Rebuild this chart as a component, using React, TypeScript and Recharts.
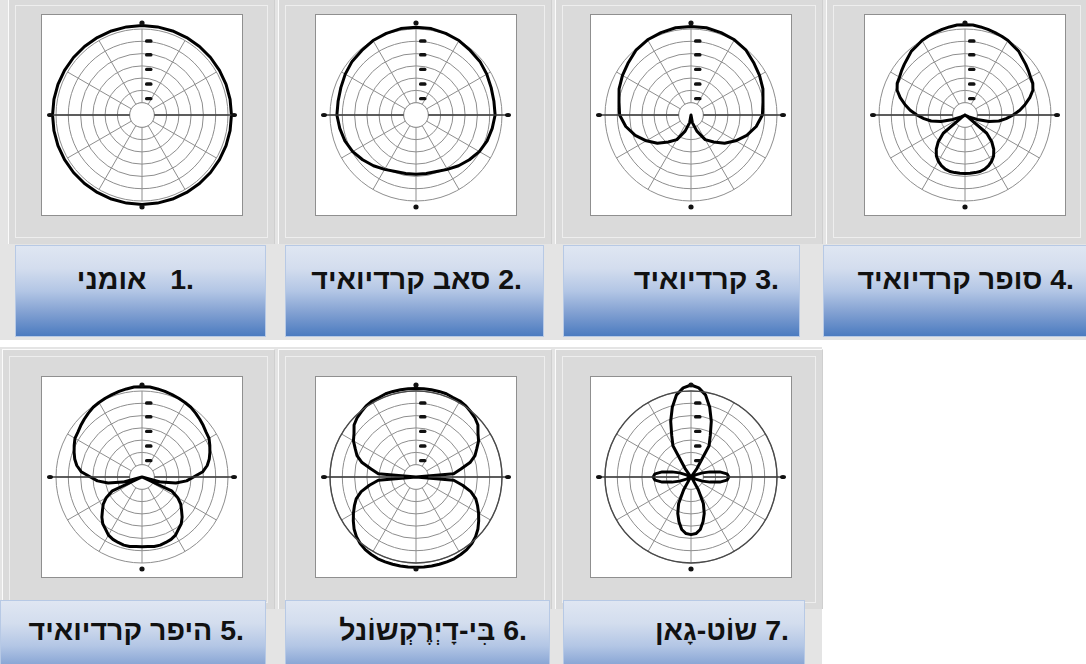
import { PolarAngleAxis, PolarGrid, PolarRadiusAxis, Radar, RadarChart } from "recharts";

// Bearing of each sample, clockwise from the front (top) of the mic.
const ANGLES_10 = [
  0, 10, 20, 30, 40, 50, 60, 70, 80, 90, 100, 110, 120, 130, 140, 150, 160, 170,
  180, 190, 200, 210, 220, 230, 240, 250, 260, 270, 280, 290, 300, 310, 320, 330, 340, 350,
];
const ANGLES_5 = [
  0, 5, 10, 15, 20, 25, 30, 35, 40, 45, 50, 55, 60, 65, 70, 75, 80, 85,
  90, 95, 100, 105, 110, 115, 120, 125, 130, 135, 140, 145, 150, 155, 160, 165, 170, 175,
  180, 185, 190, 195, 200, 205, 210, 215, 220, 225, 230, 235, 240, 245, 250, 255, 260, 265,
  270, 275, 280, 285, 290, 295, 300, 305, 310, 315, 320, 325, 330, 335, 340, 345, 350, 355,
];

// Relative pickup level, 100 = outer ring.
const OMNI = [
  104, 104, 104, 104, 104, 104, 104, 104, 104, 104, 104, 104, 104, 104, 104, 104, 104, 104,
  104, 104, 104, 104, 104, 104, 104, 104, 104, 104, 104, 104, 104, 104, 104, 104, 104, 104,
];
const SUBCARDIOID = [
  102, 102, 101, 100, 98, 97, 95, 93, 92, 92, 90, 88, 85, 81, 77, 73, 70, 69,
  69, 69, 70, 73, 77, 81, 85, 88, 90, 92, 92, 93, 95, 97, 98, 100, 101, 102,
];
const CARDIOID = [
  103, 103, 102, 101, 99, 95, 92, 89, 85, 83, 77, 69, 60, 51, 41, 33, 20, 9,
  0, 9, 20, 33, 41, 51, 60, 69, 77, 83, 85, 89, 92, 95, 99, 101, 102, 103,
];
const SUPERCARDIOID = [
  105, 105, 104, 103, 102, 101, 100, 98, 97, 94, 92, 90, 88, 87, 84, 78, 71, 64,
  56, 48, 40, 29, 15, 5, 0, 3, 33, 44, 52, 58, 62, 65, 67, 68, 68, 68,
  68, 68, 68, 68, 67, 65, 62, 58, 52, 44, 33, 3, 0, 5, 15, 29, 40, 48,
  56, 64, 71, 78, 84, 87, 88, 90, 92, 94, 97, 98, 100, 101, 102, 103, 104, 105,
];
const HYPERCARDIOID = [
  105, 105, 104, 103, 102, 101, 100, 99, 97, 95, 93, 91, 90, 87, 84, 81, 77, 71,
  60, 52, 40, 23, 0, 38, 48, 55, 60, 66, 71, 74, 78, 80, 81, 82, 82, 81,
  81, 81, 82, 82, 81, 80, 78, 74, 71, 66, 60, 55, 48, 38, 0, 23, 40, 52,
  60, 71, 77, 81, 84, 87, 90, 91, 93, 95, 97, 99, 100, 101, 102, 103, 104, 105,
];
const BIDIRECTIONAL = [
  103, 103, 103, 103, 103, 102, 102, 101, 99, 97, 94, 88, 84, 78, 73, 65, 53, 44,
  0, 44, 55, 66, 74, 79, 84, 89, 94, 98, 101, 103, 104, 105, 105, 105, 105, 105,
  105, 105, 105, 105, 105, 105, 104, 103, 101, 98, 94, 89, 84, 79, 74, 66, 55, 44,
  0, 44, 53, 65, 73, 78, 84, 88, 94, 97, 99, 101, 102, 102, 103, 103, 103, 103,
];
const SHOTGUN = [
  107, 104, 97, 84, 69, 53, 42, 12, 0, 0, 0, 0, 0, 6, 14, 23, 34, 42,
  44, 42, 34, 23, 14, 6, 0, 0, 0, 0, 0, 3, 17, 34, 45, 54, 62, 66,
  67, 66, 62, 54, 45, 34, 17, 3, 0, 0, 0, 0, 0, 6, 14, 23, 34, 42,
  44, 42, 34, 23, 14, 6, 0, 0, 0, 0, 0, 12, 42, 53, 69, 84, 97, 104,
];

const GRID_LEVELS = [14.3, 28.6, 42.9, 57.1, 71.4, 85.7, 100];
const SCALE_MARKS = [19, 36, 53, 70, 86];

const TITLES = [
  "אומני",
  "סאב קרדיואיד",
  "קרדיואיד",
  "סופר קרדיואיד",
  "היפר קרדיואיד",
  "בִּי-דָיְרֶקְשוֹנל",
  "שוֹט-גָאן",
];

const OUTER = 86;
const HUB = GRID_LEVELS[0];
const INNER = (HUB / 100) * OUTER;
const C = 100;
const GRID_STROKE = "#8e8e8e";
const FONT = '"Liberation Sans", Arial, "DejaVu Sans", sans-serif';
const CAPTION_BG =
  "linear-gradient(to bottom, #dfe6f2 0%, #d3ddee 25%, #b3c6e5 50%, #809fd1 75%, #4b7bc0 100%)";

// Angle-axis ticks: only the four cardinal bearings get a dot; the side ticks
// also carry the horizontal axis line in to the hub.
const renderCardinal = (props: any) => {
  const { x, y, payload } = props;
  const v = Number(payload?.value);
  if (v % 90 !== 0) return <g />;
  const side = v % 180 !== 0;
  return (
    <g>
      {side && (
        <line
          x1={x}
          y1={y}
          x2={x > C ? C + INNER : C - INNER}
          y2={y}
          stroke="#3a3a3a"
          strokeWidth={1.3}
        />
      )}
      <ellipse cx={x} cy={y} rx={side ? 3 : 2.6} ry={side ? 2.1 : 2.5} fill="#111" />
    </g>
  );
};

const renderMark = (props: any) => (
  <rect x={props.x + 3} y={props.y - 1.7} width={7.5} height={3.4} rx={1.6} fill="#111" />
);

function PolarPattern({ angles, levels, ring }: { angles: number[]; levels: number[]; ring?: boolean }) {
  const data = angles.map((angle, i) => ({ angle, level: levels[i], hub: HUB }));
  return (
    <RadarChart
      width={200}
      height={200}
      data={data}
      cx={C}
      cy={C}
      outerRadius={OUTER}
      margin={{ top: 0, right: 0, bottom: 0, left: 0 }}
    >
      <PolarGrid
        gridType="circle"
        polarRadius={GRID_LEVELS.map((l) => (l / 100) * OUTER)}
        polarAngles={[0, 30, 60, 90, 120, 150, 180, 210, 240, 270, 300, 330]}
        stroke={GRID_STROKE}
        strokeWidth={1}
      />
      <PolarAngleAxis
        dataKey="angle"
        axisLineType="circle"
        axisLine={ring ? { stroke: "#4a4a4a", strokeWidth: 1.4 } : false}
        tickLine={false}
        tickSize={6}
        tick={renderCardinal}
      />
      <PolarRadiusAxis
        angle={90}
        type="number"
        domain={[0, 100]}
        allowDataOverflow
        ticks={SCALE_MARKS}
        axisLine={false}
        tick={renderMark}
      />
      {/* blank hub in the middle of the grid */}
      <Radar
        dataKey="hub"
        stroke={GRID_STROKE}
        strokeWidth={1}
        fill="#fff"
        fillOpacity={1}
        dot={false}
        isAnimationActive={false}
      />
      <Radar
        dataKey="level"
        stroke="#000"
        strokeWidth={3}
        strokeLinejoin="round"
        fill="none"
        fillOpacity={0}
        dot={false}
        isAnimationActive={false}
      />
    </RadarChart>
  );
}

function Card({ left, top, width, height }: { left: number; top: number; width: number; height: number }) {
  return (
    <div
      style={{
        position: "absolute",
        left,
        top,
        width,
        height,
        boxSizing: "border-box",
        background: "#dadada",
        borderLeft: "1px solid #fbfbfb",
        borderTop: "1px solid #fbfbfb",
        borderRight: "1px solid #cfcfcf",
      }}
    >
      <div style={{ position: "absolute", left: 6, top: 6, right: 6, bottom: 6, border: "1px solid #eeeeee" }} />
    </div>
  );
}

function ChartBox({ left, top, children }: { left: number; top: number; children: any }) {
  return (
    <div
      style={{
        position: "absolute",
        left,
        top,
        width: 202,
        height: 202,
        boxSizing: "border-box",
        border: "1px solid #8f8f8f",
        background: "#fff",
      }}
    >
      {children}
    </div>
  );
}

function Caption(p: {
  left: number;
  top: number;
  width: number;
  num: string;
  title: string;
  padRight: number;
  textTop: number;
  gap?: string;
}) {
  return (
    <div
      style={{
        position: "absolute",
        left: p.left,
        top: p.top,
        width: p.width,
        height: 92,
        boxSizing: "border-box",
        border: "1px solid #b7c9e5",
        background: CAPTION_BG,
      }}
    >
      <div
        dir="rtl"
        style={{
          position: "absolute",
          left: 0,
          right: p.padRight,
          top: p.textTop,
          lineHeight: "32px",
          fontFamily: FONT,
          fontSize: 28.5,
          fontWeight: 700,
          color: "#111",
          textAlign: "right",
          whiteSpace: "pre",
        }}
      >
        <span dir="ltr">{p.num}</span>
        {p.gap ?? " "}
        {p.title}
      </div>
    </div>
  );
}

export default function App() {
  return (
    <div
      style={{
        position: "absolute",
        left: 0,
        top: 0,
        width: 1086,
        height: 664,
        overflow: "hidden",
        background: "#fff",
      }}
    >
      <div style={{ position: "absolute", left: 0, top: 0, width: 1086, height: 340, background: "#e4e4e4" }} />
      <div style={{ position: "absolute", left: 0, top: 347, width: 822, height: 317, background: "#e4e4e4" }} />

      <Card left={8} top={-2} width={267} height={246} />
      <Card left={278} top={-2} width={274} height={246} />
      <Card left={555} top={-2} width={268} height={246} />
      <Card left={826} top={-2} width={262} height={246} />
      <Card left={2} top={349} width={273} height={260} />
      <Card left={278} top={349} width={274} height={260} />
      <Card left={555} top={349} width={268} height={260} />

      <ChartBox left={41} top={14}>
        <PolarPattern angles={ANGLES_10} levels={OMNI} />
      </ChartBox>
      <ChartBox left={315} top={14}>
        <PolarPattern angles={ANGLES_10} levels={SUBCARDIOID} />
      </ChartBox>
      <ChartBox left={590} top={14}>
        <PolarPattern angles={ANGLES_10} levels={CARDIOID} />
      </ChartBox>
      <ChartBox left={864} top={14}>
        <PolarPattern angles={ANGLES_5} levels={SUPERCARDIOID} />
      </ChartBox>
      <ChartBox left={41} top={376}>
        <PolarPattern angles={ANGLES_5} levels={HYPERCARDIOID} />
      </ChartBox>
      <ChartBox left={315} top={376}>
        <PolarPattern angles={ANGLES_5} levels={BIDIRECTIONAL} ring />
      </ChartBox>
      <ChartBox left={590} top={376}>
        <PolarPattern angles={ANGLES_5} levels={SHOTGUN} ring />
      </ChartBox>

      <Caption left={15} top={245} width={251} num="1." gap={"\u00a0\u00a0 "} title={TITLES[0]} padRight={71} textTop={17} />
      <Caption left={285} top={245} width={259} num="2." title={TITLES[1]} padRight={21} textTop={17} />
      <Caption left={563} top={245} width={237} num="3." title={TITLES[2]} padRight={20} textTop={17} />
      <Caption left={823} top={245} width={265} num="4." title={TITLES[3]} padRight={13} textTop={17} />
      <Caption left={0} top={600} width={266} num="5." title={TITLES[4]} padRight={21} textTop={13} />
      <Caption left={285} top={600} width={265} num="6." title={TITLES[5]} padRight={22} textTop={13} />
      <Caption left={563} top={600} width={242} num="7." title={TITLES[6]} padRight={15} textTop={13} />
    </div>
  );
}
